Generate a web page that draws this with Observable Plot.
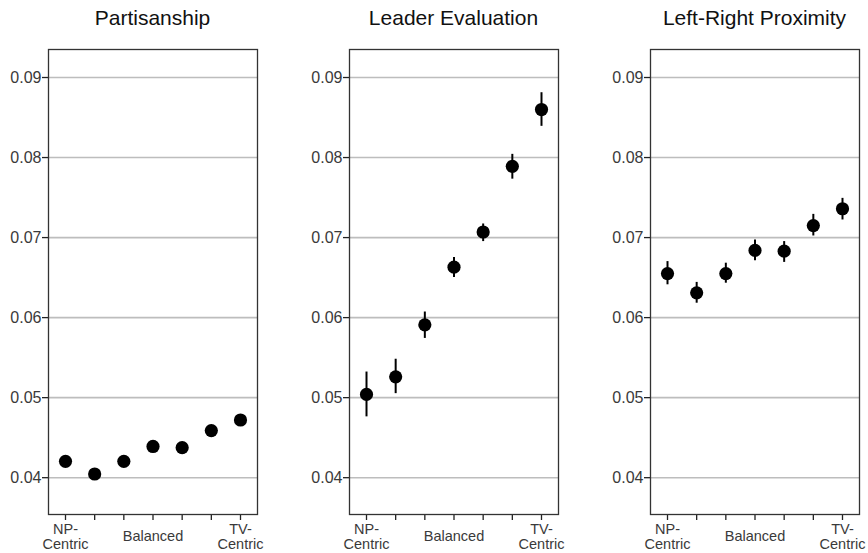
<!DOCTYPE html>
<html>
<head>
<meta charset="utf-8">
<script src="https://cdn.jsdelivr.net/npm/d3@7"></script>
<script src="https://cdn.jsdelivr.net/npm/@observablehq/plot@0.6"></script>
<style>
  html, body { margin: 0; padding: 0; background: #fff; }
  #wrap { position: relative; width: 868px; height: 553px; font-family: "Liberation Sans", Arial, sans-serif; }
  .panel { position: absolute; top: 0; width: 266px; }
  .title { height: 36px; line-height: 36px; font-size: 21px; color: #111; text-align: center; padding-left: 48px; padding-right: 9px; box-sizing: border-box; }
</style>
</head>
<body>
<div id="wrap"></div>
<script>
const categories = ["NP-\nCentric", "", "", "Balanced", "", "", "TV-\nCentric"];
const panelTitles = ["Partisanship", "Leader Evaluation", "Left-Right Proximity"];
const yTicks = [0.04, 0.05, 0.06, 0.07, 0.08, 0.09];

const partisanshipEst = [0.04204, 0.04046, 0.04204, 0.0439, 0.04375, 0.04588, 0.04721];
const partisanshipLo  = [0.04164, 0.04006, 0.04164, 0.0435, 0.04335, 0.04548, 0.04681];
const partisanshipHi  = [0.04244, 0.04086, 0.04244, 0.0443, 0.04415, 0.04628, 0.04761];

const leaderEst = [0.0504, 0.0526, 0.0591, 0.0663, 0.0707, 0.0789, 0.0860];
const leaderLo  = [0.0476, 0.0505, 0.0574, 0.0650, 0.0695, 0.0773, 0.0839];
const leaderHi  = [0.0532, 0.0548, 0.0607, 0.0675, 0.0717, 0.0804, 0.0881];

const lrEst = [0.0655, 0.0631, 0.0655, 0.0684, 0.0683, 0.0715, 0.0736];
const lrLo  = [0.0641, 0.0618, 0.0643, 0.0671, 0.0669, 0.0702, 0.0722];
const lrHi  = [0.0670, 0.0644, 0.0668, 0.0697, 0.0695, 0.0729, 0.0749];

const series = [
  [partisanshipEst, partisanshipLo, partisanshipHi],
  [leaderEst, leaderLo, leaderHi],
  [lrEst, lrLo, lrHi]
];

const wrap = document.getElementById("wrap");
const xPos = categories.map((_, i) => i + 1);
const labelData = categories.map((c, i) => ({x: i + 1, text: c}));

series.forEach(([est, lo, hi], p) => {
  const data = est.map((v, i) => ({x: i + 1, y: v, lo: lo[i], hi: hi[i]}));
  const panel = document.createElement("div");
  panel.className = "panel";
  panel.style.left = (p * 301) + "px";
  const t = document.createElement("div");
  t.className = "title";
  t.textContent = panelTitles[p];
  panel.appendChild(t);
  const chart = Plot.plot({
    width: 266,
    height: 517,
    marginLeft: 48,
    marginRight: 9,
    marginTop: 13,
    marginBottom: 39,
    style: {fontFamily: "'Liberation Sans', Arial, sans-serif", fontSize: "15px", color: "#333", background: "#fff"},
    x: {type: "linear", domain: [0.417, 7.583], axis: null},
    y: {domain: [0.0354, 0.0935], axis: null},
    marks: [
      Plot.gridY(yTicks, {stroke: "#bdbdbd", strokeOpacity: 1, strokeWidth: 1.6}),
      Plot.axisY({ticks: yTicks, tickFormat: d3.format(".2f"), tickSize: 6, tickPadding: 1, label: null, fontSize: 16, stroke: "#222", fill: "#3a3a3a", strokeWidth: 1.3}),
      Plot.axisX({ticks: xPos, tickFormat: () => "", tickSize: 6, label: null, stroke: "#222", strokeWidth: 1.3}),
      Plot.text(labelData, {x: "x", text: "text", frameAnchor: "bottom", dy: 22, lineAnchor: "middle", lineHeight: 1.05, fontSize: 14.5, fill: "#3a3a3a"}),
      Plot.frame({stroke: "#333", strokeWidth: 1.3}),
      Plot.ruleX(data, {x: "x", y1: "lo", y2: "hi", stroke: "#000", strokeWidth: 2}),
      Plot.dot(data, {x: "x", y: "y", r: 6.6, fill: "#000", stroke: "none"})
    ]
  });
  panel.appendChild(chart);
  wrap.appendChild(panel);
});
</script>
</body>
</html>
